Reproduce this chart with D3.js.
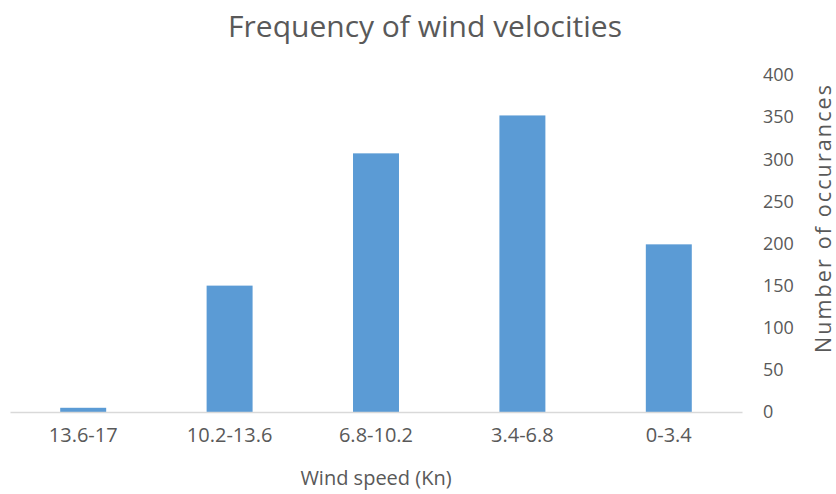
<!DOCTYPE html>
<html>
<head>
<meta charset="utf-8">
<script src="https://cdn.jsdelivr.net/npm/d3@7"></script>
<style>
  body { margin: 0; background: #fff; }
  text { font-family: "Open Sans", sans-serif; fill: #595959; }
</style>
</head>
<body>
<div id="chart"></div>
<script>
var categories = ["13.6-17", "10.2-13.6", "6.8-10.2", "3.4-6.8", "0-3.4"];
var occurrences = [5, 150, 307, 352, 199];
var yTicks = [0, 50, 100, 150, 200, 250, 300, 350, 400];

var W = 836, H = 494;
var margin = {top: 75, right: 94, bottom: 82, left: 10},
    width = W - margin.left - margin.right,
    height = H - margin.top - margin.bottom;

var svg = d3.select("#chart").append("svg")
    .attr("width", W)
    .attr("height", H);

var g = svg.append("g")
    .attr("transform", "translate(" + margin.left + "," + margin.top + ")");

var xScale = d3.scaleBand()
    .domain(categories)
    .range([0, width])
    .paddingInner(0.686)
    .paddingOuter(0.343);

var yScale = d3.scaleLinear()
    .domain([0, 400])
    .range([height, 0]);

// bars
g.selectAll("rect")
    .data(categories)
    .join("rect")
    .attr("x", function(d) { return xScale(d); })
    .attr("y", function(d, i) { return yScale(occurrences[i]); })
    .attr("width", xScale.bandwidth())
    .attr("height", function(d, i) { return height - yScale(occurrences[i]); })
    .attr("fill", "#5b9bd5");

// x axis
var xAxis = g.append("g")
    .attr("transform", "translate(0," + height + ")")
    .call(d3.axisBottom(xScale).tickSize(0).tickPadding(16));
xAxis.select(".domain").attr("stroke", "#d9d9d9").attr("stroke-width", 1.5);
xAxis.selectAll("text").style("font-size", "20px").attr("fill", "#595959");

// y axis on the right, no line
var yAxis = g.append("g")
    .attr("transform", "translate(" + (width + 21) + ",0)")
    .call(d3.axisRight(yScale).tickValues(yTicks).tickSize(0).tickPadding(0));
yAxis.select(".domain").remove();
yAxis.selectAll("text").style("font-size", "18px").attr("fill", "#595959");

// title
svg.append("text")
    .attr("x", 425)
    .attr("y", 37)
    .attr("text-anchor", "middle")
    .style("font-size", "30px")
    .text("Frequency of wind velocities");

// axis titles
svg.append("text")
    .attr("x", 376)
    .attr("y", 485)
    .attr("text-anchor", "middle")
    .style("font-size", "20px")
    .text("Wind speed (Kn)");

svg.append("text")
    .attr("transform", "translate(831,219) rotate(-90)")
    .attr("text-anchor", "middle")
    .attr("textLength", 268)
    .attr("lengthAdjust", "spacing")
    .style("font-size", "21.5px")
    .text("Number  of occurances");
</script>
</body>
</html>
